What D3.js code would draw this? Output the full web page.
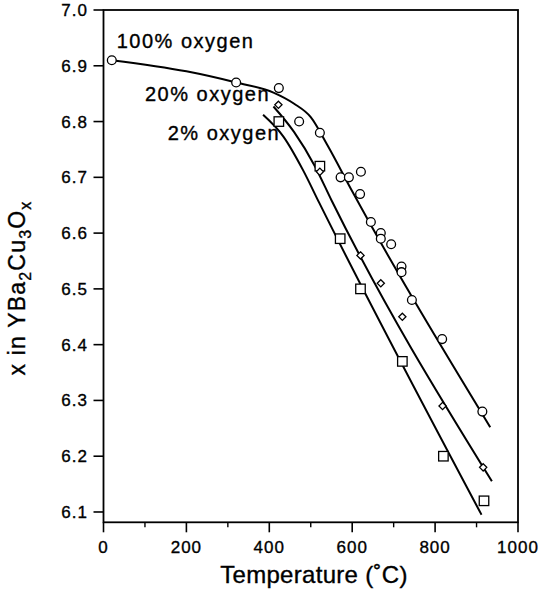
<!DOCTYPE html>
<html>
<head>
<meta charset="utf-8">
<script src="https://cdn.jsdelivr.net/npm/d3@7"></script>
<style>
  html, body { margin: 0; padding: 0; background: #fff; }
  svg { display: block; }
  text { font-family: "Liberation Sans", Arial, Helvetica, sans-serif; fill: #000; stroke: #000; stroke-width: 0.35px; }
</style>
</head>
<body>
<svg id="chart" width="539" height="592"></svg>
<script>
// Measured oxygen content x in YBa2Cu3Ox vs. temperature, three atmospheres
const o2_100 = [
  [20, 6.91], [320, 6.87], [423, 6.86], [472, 6.80], [522, 6.78],
  [572, 6.70], [592, 6.70], [621, 6.71], [619, 6.67], [645, 6.62],
  [669, 6.60], [669, 6.59], [694, 6.58], [719, 6.54], [719, 6.53],
  [744, 6.48], [817, 6.41], [914, 6.28]
];
const o2_20 = [
  [422, 6.83], [522, 6.71], [620, 6.56], [669, 6.51], [721, 6.45],
  [818, 6.29], [916, 6.18]
];
const o2_2 = [
  [423, 6.80], [522, 6.72], [571, 6.59], [620, 6.50], [721, 6.37],
  [820, 6.20], [918, 6.12]
];

// Smooth fitted curves through each data set
const fit_100 = [
  [20, 6.910], [200, 6.890], [320, 6.870], [410, 6.852], [460, 6.832],
  [500, 6.808], [540, 6.758], [600, 6.675], [933, 6.252]
];
const fit_20 = [
  [410, 6.827], [460, 6.781], [510, 6.720], [550, 6.659], [937, 6.155]
];
const fit_2 = [
  [385, 6.812], [434, 6.773], [482, 6.712], [520, 6.655], [912, 6.095]
];

const xTicks = [0, 200, 400, 600, 800, 1000];
const xMinorTicks = [100, 300, 500, 700, 900];
const yTicks = [6.1, 6.2, 6.3, 6.4, 6.5, 6.6, 6.7, 6.8, 6.9, 7.0];

const curveLabels = [
  { text: "100% oxygen", t: 32, v: 6.9315 },
  { text: "20% oxygen", t: 100, v: 6.8365 },
  { text: "2% oxygen", t: 155, v: 6.7675 }
];

const svg = d3.select("#chart");

const x = d3.scaleLinear().domain([0, 1000]).range([103.5, 518]);
const y = d3.scaleLinear().domain([6.0815, 7.0]).range([522.3, 10]);

const [x0, x1] = x.range();
const [yB, yT] = y.range();

// Frame
svg.append("rect")
  .attr("x", x0).attr("y", yT)
  .attr("width", x1 - x0).attr("height", yB - yT)
  .attr("fill", "none").attr("stroke", "#000").attr("stroke-width", 1.8);

// X axis ticks (major and minor) and labels
const gx = svg.append("g");
gx.selectAll("line.major").data(xTicks).join("line")
  .attr("class", "major")
  .attr("x1", d => x(d)).attr("x2", d => x(d))
  .attr("y1", yB).attr("y2", yB + 10)
  .attr("stroke", "#000").attr("stroke-width", 1.6);
gx.selectAll("line.minor").data(xMinorTicks).join("line")
  .attr("class", "minor")
  .attr("x1", d => x(d)).attr("x2", d => x(d))
  .attr("y1", yB).attr("y2", yB + 5)
  .attr("stroke", "#000").attr("stroke-width", 1.4);
gx.selectAll("text").data(xTicks).join("text")
  .attr("x", d => x(d)).attr("y", 553)
  .attr("text-anchor", "middle")
  .attr("font-size", 17).attr("letter-spacing", 1)
  .text(d => d);

// Y axis ticks and labels
const gy = svg.append("g");
gy.selectAll("line").data(yTicks).join("line")
  .attr("x1", x0 - 10).attr("x2", x0)
  .attr("y1", d => y(d)).attr("y2", d => y(d))
  .attr("stroke", "#000").attr("stroke-width", 1.6);
gy.selectAll("text").data(yTicks).join("text")
  .attr("x", 88).attr("y", d => y(d) + 6)
  .attr("text-anchor", "end")
  .attr("font-size", 17).attr("letter-spacing", 1)
  .text(d => d.toFixed(1));

// Axis titles
svg.append("text")
  .attr("x", 314).attr("y", 583)
  .attr("text-anchor", "middle")
  .attr("font-size", 24).attr("letter-spacing", 0.3)
  .text("Temperature (\u02DAC)");

const yt = svg.append("text")
  .attr("transform", "translate(25,288) rotate(-90)")
  .attr("text-anchor", "middle")
  .attr("font-size", 23).attr("letter-spacing", 1.2);
yt.append("tspan").text("x in YBa");
yt.append("tspan").attr("font-size", 16).attr("dy", 6).text("2");
yt.append("tspan").attr("dy", -6).text("Cu");
yt.append("tspan").attr("font-size", 16).attr("dy", 6).text("3");
yt.append("tspan").attr("dy", -6).text("O");
yt.append("tspan").attr("font-size", 16).attr("dy", 6).text("x");

// Fitted curves
const line = d3.line()
  .x(d => x(d[0])).y(d => y(d[1]))
  .curve(d3.curveMonotoneX);
[fit_100, fit_20, fit_2].forEach(f => {
  svg.append("path").datum(f)
    .attr("d", line)
    .attr("fill", "none").attr("stroke", "#000").attr("stroke-width", 2);
});

// Markers
const mk = { fill: "#fff", stroke: "#000", sw: 1.3 };
svg.append("g").selectAll("circle").data(o2_100).join("circle")
  .attr("cx", d => x(d[0])).attr("cy", d => y(d[1])).attr("r", 4.4)
  .attr("fill", mk.fill).attr("stroke", mk.stroke).attr("stroke-width", mk.sw);

const sq = 9.5;
svg.append("g").selectAll("rect").data(o2_2).join("rect")
  .attr("x", d => x(d[0]) - sq / 2).attr("y", d => y(d[1]) - sq / 2)
  .attr("width", sq).attr("height", sq)
  .attr("fill", mk.fill).attr("stroke", mk.stroke).attr("stroke-width", mk.sw);

const dm = 3.6;
svg.append("g").selectAll("path").data(o2_20).join("path")
  .attr("d", d => {
    const cx = x(d[0]), cy = y(d[1]);
    return `M${cx},${cy - dm}L${cx + dm},${cy}L${cx},${cy + dm}L${cx - dm},${cy}Z`;
  })
  .attr("fill", mk.fill).attr("stroke", mk.stroke).attr("stroke-width", mk.sw);

// Curve labels
svg.append("g").selectAll("text").data(curveLabels).join("text")
  .attr("x", d => x(d.t)).attr("y", d => y(d.v))
  .attr("font-size", 20).attr("letter-spacing", 1.5)
  .text(d => d.text);
</script>
</body>
</html>
